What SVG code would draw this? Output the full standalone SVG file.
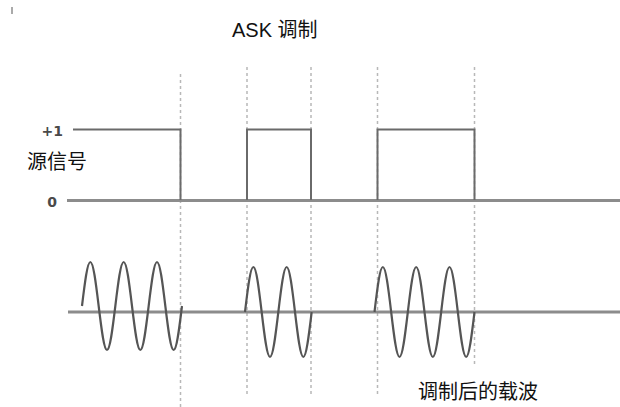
<svg xmlns="http://www.w3.org/2000/svg" width="620" height="407" viewBox="0 0 620 407">
<style>
.bg{fill:#ffffff}
.grid{stroke:#b8b8b8;stroke-width:1.5;stroke-dasharray:3 3;fill:none}
.axis{stroke:#8c8c8c;stroke-width:3;fill:none}
.sq{stroke:#6a6a6a;stroke-width:2;fill:none}
.wave{stroke:#555555;stroke-width:2.2;fill:none;stroke-linejoin:round}
.lbl{font-family:"Liberation Sans","Noto Sans CJK SC",sans-serif;font-size:20px;fill:#111111}
.lvl{font-family:"DejaVu Sans",sans-serif;font-weight:bold;font-size:14px;fill:#4a4a4a}
</style>
<rect class="bg" x="0" y="0" width="620" height="407"/>
<rect x="11" y="7" width="2" height="7" fill="#aaaaaa"/>
<g id="title"><text class="lbl" x="232" y="36.5">ASK 调制</text></g>
<g id="gridlines">
<line class="grid" x1="180.5" y1="74" x2="180.5" y2="407"/>
<line class="grid" x1="247" y1="67" x2="247" y2="397"/>
<line class="grid" x1="311" y1="67" x2="311" y2="397"/>
<line class="grid" x1="377.5" y1="67" x2="377.5" y2="397"/>
<line class="grid" x1="474.5" y1="67" x2="474.5" y2="367"/>
</g>
<g id="source-signal">
<line class="axis" x1="67" y1="200.5" x2="620" y2="200.5"/>
<polyline class="sq" points="73,129.5 180.5,129.5 180.5,200"/>
<polyline class="sq" points="247,200 247,129.5 311,129.5 311,200"/>
<polyline class="sq" points="377.5,200 377.5,129.5 474.5,129.5 474.5,200"/>
<text class="lvl" x="63" y="135.5" text-anchor="end">+1</text>
<text class="lvl" x="57" y="206.5" text-anchor="end">0</text>
<text class="lbl" x="27" y="169">源信号</text>
</g>
<g id="carrier">
<line class="axis" x1="68" y1="312" x2="620" y2="312"/>
<path class="wave" d="M82,306
c2.718,-22.54 5.317,-44 8.333,-44 c3.016,0 5.615,21.46 8.333,44 c2.718,22.54 5.317,44 8.333,44 c3.016,0 5.615,-21.46 8.333,-44
c2.718,-22.54 5.317,-44 8.333,-44 c3.016,0 5.615,21.46 8.333,44 c2.718,22.54 5.317,44 8.333,44 c3.016,0 5.615,-21.46 8.333,-44
c2.718,-22.54 5.317,-44 8.333,-44 c3.016,0 5.615,21.46 8.333,44 c2.718,22.54 5.317,44 8.333,44 c3.016,0 5.615,-21.46 8.333,-44"/>
<path class="wave" d="M245,312
c2.718,-23.05 5.317,-45 8.333,-45 c3.016,0 5.615,21.95 8.333,45 c2.718,23.05 5.317,45 8.333,45 c3.016,0 5.615,-21.95 8.333,-45
c2.718,-23.05 5.317,-45 8.333,-45 c3.016,0 5.615,21.95 8.333,45 c2.718,23.05 5.317,45 8.333,45 c3.016,0 5.615,-21.95 8.333,-45"/>
<path class="wave" d="M374.5,312
c2.718,-23.05 5.317,-45 8.333,-45 c3.016,0 5.615,21.95 8.333,45 c2.718,23.05 5.317,45 8.333,45 c3.016,0 5.615,-21.95 8.333,-45
c2.718,-23.05 5.317,-45 8.333,-45 c3.016,0 5.615,21.95 8.333,45 c2.718,23.05 5.317,45 8.333,45 c3.016,0 5.615,-21.95 8.333,-45
c2.718,-23.05 5.317,-45 8.333,-45 c3.016,0 5.615,21.95 8.333,45 c2.718,23.05 5.317,45 8.333,45 c3.016,0 5.615,-21.95 8.333,-45"/>
<text class="lbl" x="418" y="399">调制后的载波</text>
</g>
</svg>
